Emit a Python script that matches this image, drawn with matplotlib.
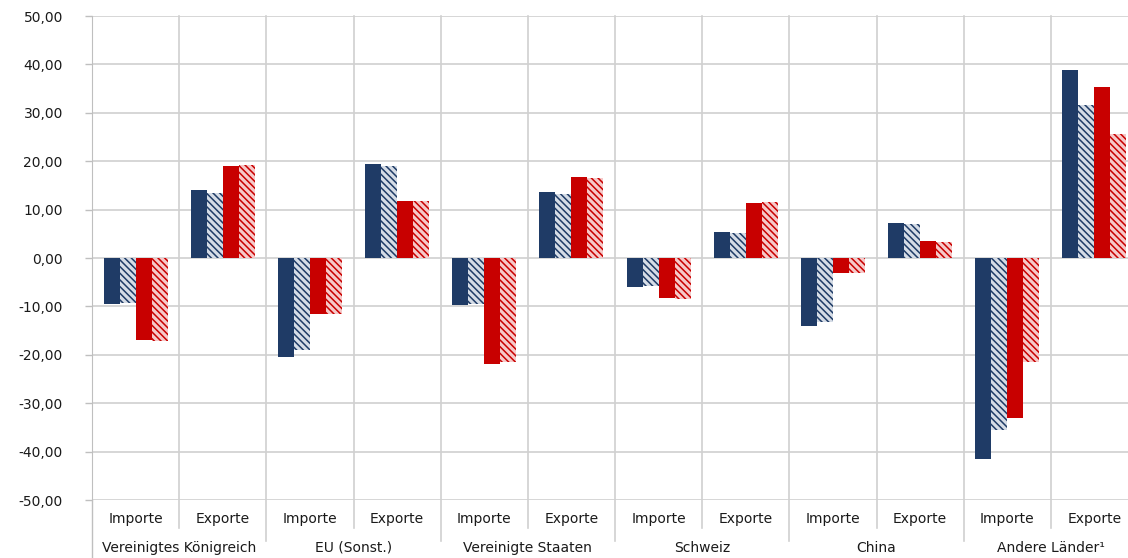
import matplotlib
matplotlib.use('Agg')
import matplotlib.pyplot as plt
import matplotlib.transforms as mtransforms
from matplotlib.ticker import FuncFormatter, MultipleLocator
import numpy as np

# --- DATA ---
countries = ['Vereinigtes Königreich', 'EU (Sonst.)', 'Vereinigte Staaten',
             'Schweiz', 'China', 'Andere Länder¹']
flows = ['Importe', 'Exporte']

# one value per (country, flow): Importe, Exporte, Importe, Exporte, ...
navy_solid = [-9.5, 14.0, -20.5, 19.4, -9.7, 13.6, -6.0, 5.3, -14.0, 7.2, -41.5, 38.9]
navy_hatch = [-9.2, 13.5, -19.0, 19.0, -9.5, 13.2, -5.8, 5.2, -13.2, 7.0, -35.6, 31.6]
red_solid = [-17.0, 19.0, -11.5, 11.8, -22.0, 16.8, -8.2, 11.3, -3.0, 3.6, -33.0, 35.4]
red_hatch = [-17.2, 19.2, -11.5, 11.7, -21.5, 16.5, -8.5, 11.6, -3.0, 3.4, -21.5, 25.6]

# --- PLOTTING SETUP ---
plt.rcParams['font.family'] = ['DejaVu Sans']
plt.rcParams['hatch.linewidth'] = 1.1

navy = '#1F3B66'
red = '#C80000'

fig = plt.figure(figsize=(11.28, 5.58), dpi=100)
# axes spans x 92..1138 px (slightly past the right edge), y 16..500 px
ax = fig.add_axes([92 / 1128, 58 / 558, 1046 / 1128, 484 / 558])

n = len(navy_solid)
x = np.arange(n)
w = 0.184
offs = np.array([-1.5, -0.5, 0.5, 1.5]) * w

ax.bar(x + offs[0], navy_solid, w, color=navy, lw=0, zorder=3)
ax.bar(x + offs[1], navy_hatch, w, facecolor='#D5DCE6', edgecolor=navy,
       hatch='\\' * 5, lw=0, zorder=3)
ax.bar(x + offs[2], red_solid, w, color=red, lw=0, zorder=3)
ax.bar(x + offs[3], red_hatch, w, facecolor='#F6C9C9', edgecolor=red,
       hatch='\\' * 5, lw=0, zorder=3)

ax.set_xlim(-0.5, n - 0.5)
ax.set_ylim(-50, 50)
ax.yaxis.set_major_locator(MultipleLocator(10))
ax.yaxis.set_major_formatter(FuncFormatter(lambda v, p: f'{v:.2f}'.replace('.', ',')))
ax.tick_params(axis='y', length=5, width=1, color='#BFBFBF', pad=16,
               labelsize=10, labelcolor='#1a1a1a')
ax.set_xticks([])
ax.grid(axis='y', color='#D0D0D0', lw=1.2, zorder=0)

for s in ['top', 'right', 'bottom']:
    ax.spines[s].set_visible(False)
ax.spines['left'].set_color('#BFBFBF')

# vertical category lines, extending into the label area
trans = mtransforms.blended_transform_factory(ax.transData, ax.transAxes)
for i in range(1, n):
    b = i - 0.5
    low = -0.058 if i % 2 == 1 else -0.085
    ax.plot([b, b], [1, low], color='#D0D0D0', lw=1.2, transform=trans,
            clip_on=False, zorder=0)
ax.plot([-0.5, -0.5], [0, -0.12], color='#BFBFBF', lw=1, transform=trans,
        clip_on=False, zorder=0)

# two-level category labels
for i in range(n):
    ax.text(i, -0.039, flows[i % 2], transform=trans, ha='center', va='center',
            fontsize=10, color='#1a1a1a')
for k, c in enumerate(countries):
    ax.text(2 * k + 0.5, -0.099, c, transform=trans, ha='center', va='center',
            fontsize=10, color='#1a1a1a')

fig.savefig('out.png', dpi=100)
